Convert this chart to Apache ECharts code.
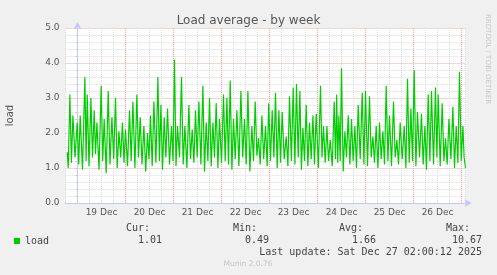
<!DOCTYPE html>
<html><head><meta charset="utf-8">
<script src="https://cdn.jsdelivr.net/npm/echarts@6/dist/echarts.min.js"></script>
<style>html,body{margin:0;padding:0;background:#f0f0f0}#c{width:497px;height:275px}</style>
</head><body><div id="c"></div>
<script>
// hours since 19 Dec 00:00
const hours = [-5.15,-4.65,-3.8,-3.05,-2.3,-1.25,-0.15,0.6,1.35,2.5,3.7,4.3,4.85,5.75,6.7,7.5,8.35,9.0,9.7,10.75,11.85,12.6,13.35,14.35,15.35,16.25,17.2,18.1,19.0,19.85,20.7,21.6,22.5,23.25,24.0,25.0,26.0,26.85,27.7,28.7,29.7,30.5,31.35,32.25,33.2,34.1,35.0,35.75,36.5,37.35,38.2,39.2,40.2,40.95,41.7,42.5,43.35,44.2,45.0,46.0,47.0,47.75,48.5,49.25,50.0,51.0,52.0,52.85,53.7,54.7,55.7,56.5,57.35,58.2,59.0,59.85,60.7,61.7,62.7,63.5,64.35,65.2,66.0,66.85,67.7,68.5,69.35,70.2,71.0,72.0,73.0,73.85,74.7,75.5,76.35,77.2,78.0,78.85,79.7,80.7,81.7,82.6,83.5,84.35,85.2,86.2,87.2,88.0,88.85,89.7,90.5,91.35,92.2,93.1,94.0,94.85,95.6,96.5,97.35,98.2,99.0,99.85,100.7,101.5,102.35,103.35,104.35,105.2,106.0,106.95,107.85,108.7,109.5,110.35,111.2,111.95,112.7,113.5,114.35,115.2,116.0,116.85,117.7,118.5,119.35,120.45,121.5,122.25,123.0,123.85,124.7,125.5,126.35,127.35,128.35,129.0,129.6,130.1,130.7,131.35,132.0,132.85,133.7,134.5,135.35,136.2,137.0,137.85,138.7,139.5,140.35,141.35,142.35,143.2,144.0,145.0,146.0,146.85,147.7,148.5,149.35,150.2,151.0,151.85,152.7,153.5,154.35,155.2,156.0,157.0,158.0,158.85,159.7,160.5,161.35,162.35,163.35,164.2,165.0,165.85,166.7,167.5,168.35,169.2,170.0,171.0,172.0,172.85,173.7,174.5,175.35,176.2,177.0,178.0,179.0,179.7,180.35,181.35,182.35,183.2,184.0,184.85,185.7,186.7,187.7,188.5,189.35,190.2,191.0,191.85,192.7,193.3,194.0];
const load = [1.45,1.0,3.1,1.15,2.5,1.3,2.3,1.1,2.5,0.95,3.6,1.2,3.1,1.05,3.0,1.3,2.65,1.4,2.3,0.95,3.35,1.2,2.4,0.85,3.2,1.1,2.45,1.25,3.0,1.0,2.05,1.3,2.3,1.15,2.1,1.05,2.65,1.2,2.9,1.0,3.1,1.3,2.45,1.1,2.2,0.9,2.0,1.25,2.5,1.05,2.9,1.15,3.6,1.2,2.8,0.95,2.45,1.3,2.7,1.1,2.2,1.2,4.1,1.05,2.2,1.3,3.6,1.1,2.2,1.0,2.8,1.25,2.1,1.15,2.65,1.3,2.9,1.1,3.35,0.9,2.3,1.2,3.0,1.05,2.3,1.3,2.85,1.0,2.4,1.15,3.1,1.2,3.0,1.1,3.5,0.95,2.4,1.25,2.65,1.05,3.2,1.3,2.4,1.1,3.2,0.9,2.2,1.2,2.9,1.35,1.85,1.1,2.5,1.25,2.2,1.05,2.85,1.2,2.65,1.3,3.15,1.0,2.65,1.15,2.6,1.25,1.9,1.05,3.05,1.2,3.3,1.1,3.4,1.3,3.2,0.95,2.15,1.2,2.8,1.05,2.3,1.25,2.5,1.1,2.55,1.0,3.35,1.3,2.2,1.15,2.2,1.2,1.8,1.05,2.9,1.25,3.1,1.15,2.5,1.2,3.85,0.9,2.05,1.3,2.5,1.1,2.4,1.2,2.2,1.0,2.8,1.25,3.15,1.1,3.2,1.05,3.05,1.3,1.9,1.15,2.2,1.0,2.3,1.25,2.05,1.1,3.35,1.2,2.5,1.05,2.9,1.3,1.8,1.1,2.3,1.25,2.2,1.0,3.55,1.15,2.7,1.2,3.8,1.05,2.6,1.3,2.55,1.1,2.2,0.95,3.1,1.2,3.2,1.1,3.3,1.3,3.1,1.05,2.85,1.2,1.85,1.1,2.4,1.25,2.75,1.0,2.2,1.15,3.75,1.2,2.2,1.3,1.0];
const dayLabels = ['19 Dec','20 Dec','21 Dec','22 Dec','23 Dec','24 Dec','25 Dec','26 Dec'];
const statNames = ['Cur:','Min:','Avg:','Max:'];
const statValues = ['1.01','0.49','1.66','10.67'];
const seriesName = 'load';
const lastUpdate = 'Last update: Sat Dec 27 02:00:12 2025';
const titleText = 'Load average - by week';
const footer = 'Munin 2.0.76';
const sideText = 'RRDTOOL / TOBI OETIKER';

const RED = '#eea6a6';
const GREY = '#dadada';
const chart = echarts.init(document.getElementById('c'), null, {renderer: 'canvas'});
const data = hours.map((h, i) => [h, load[i]]);
const statX = [150, 257, 363, 470];
const valX = [162, 269, 376, 482];
const mono = 'DejaVu Sans Mono';
const graphics = [];
statNames.forEach((s, i) => {
  graphics.push({type: 'text', x: statX[i], y: 228, style: {text: s, font: '10px ' + mono, fill: '#444', align: 'right', verticalAlign: 'middle'}});
  graphics.push({type: 'text', x: valX[i], y: 240, style: {text: statValues[i], font: '10px ' + mono, fill: '#444', align: 'right', verticalAlign: 'middle'}});
});
graphics.push({type: 'text', x: 482, y: 252, style: {text: lastUpdate, font: '10px ' + mono, fill: '#444', align: 'right', verticalAlign: 'middle'}});
graphics.push({type: 'text', x: 248, y: 264.5, style: {text: footer, font: '7.5px DejaVu Sans', fill: '#c4c4c4', align: 'center', verticalAlign: 'middle'}});
graphics.push({type: 'text', x: 488, y: 14, rotation: -Math.PI / 2, style: {text: sideText, font: '7px DejaVu Sans', fill: '#c8c8c8', align: 'left', verticalAlign: 'middle'}});

chart.setOption({
  animation: false,
  backgroundColor: '#f0f0f0',
  title: {text: titleText, left: 'center', top: 10, textStyle: {fontFamily: 'DejaVu Sans', fontSize: 12, fontWeight: 'normal', color: '#555'}},
  legend: {data: [seriesName], left: 9, top: 231, itemWidth: 6, itemHeight: 6, icon: 'rect', textStyle: {fontFamily: mono, fontSize: 10, color: '#444'}},
  grid: {left: 65.5, right: 31.5, top: 28, bottom: 72, containLabel: false, outerBoundsMode: 'none', show: true, backgroundColor: '#ffffff', borderWidth: 0},
  xAxis: [{
    type: 'value', min: -6, max: 194, interval: 6,
    axisLine: {show: true, lineStyle: {color: '#c4c8f4'}, symbol: ['none', 'arrow'], symbolSize: [6, 7], symbolOffset: [0, 6]},
    axisTick: {show: false},
    axisLabel: {margin: 5, fontFamily: 'DejaVu Sans', fontSize: 9, color: '#555', showMinLabel: false, showMaxLabel: false,
      formatter: v => { const m = ((v % 24) + 24) % 24; if (Math.abs(m - 12) < 1e-6) { const d = Math.floor(v / 24); return dayLabels[d] || ''; } return ''; }},
    splitLine: {show: true, lineStyle: {color: [GREY, RED, GREY, GREY], type: [1, 1], width: 1}}
  }],
  yAxis: [{
    type: 'value', min: 0, max: 5, interval: 0.2,
    name: 'load', nameLocation: 'middle', nameGap: 50, nameRotate: 90, nameTextStyle: {fontFamily: 'DejaVu Sans', fontSize: 10, color: '#555'},
    axisLine: {show: true, lineStyle: {color: '#c4c8f4'}, symbol: ['none', 'arrow'], symbolSize: [6, 7], symbolOffset: [0, 6]},
    axisTick: {show: true, length: 2, lineStyle: {color: '#c8c8d8'}},
    axisLabel: {margin: 6, fontFamily: 'DejaVu Sans', fontSize: 9, color: '#555',
      formatter: v => Math.abs(v - Math.round(v)) < 1e-6 ? v.toFixed(1) : ''},
    splitLine: {show: true, lineStyle: {color: [RED, GREY, GREY, GREY, GREY], type: [1, 1], width: 1}}
  }],
  series: [{
    type: 'line', name: seriesName, data: data, z: 3,
    showSymbol: false, symbol: 'none', color: '#00cc00',
    lineStyle: {color: '#00cc00', width: 1.2}
  }],
  graphic: graphics
});
</script></body></html>
